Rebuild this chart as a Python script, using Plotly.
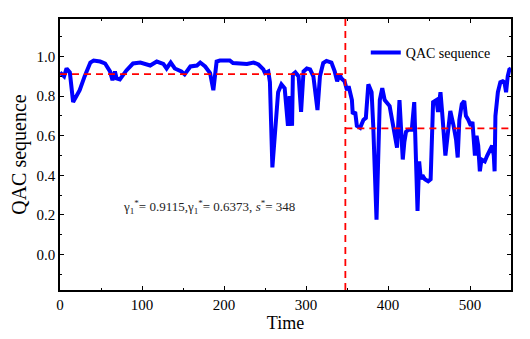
import plotly.graph_objects as go

# QAC sequence (time, value)
time = [0, 5, 8, 12, 16, 24, 30, 37, 41, 49, 55, 61, 64, 67, 69, 73, 81, 89, 98,
        110, 118, 126, 130, 135, 140, 148, 152, 159, 167, 171, 177, 183, 187, 191,
        195, 207, 211, 220, 228, 236, 242, 248, 250, 254, 256, 259, 264, 266, 270,
        274, 278, 280, 283, 284, 287, 291, 294, 297, 301, 305, 309, 314, 317, 321,
        325, 331, 335, 338, 341, 343, 347, 350, 352, 356, 357, 360, 362, 366, 370,
        373, 376, 380, 382, 386, 390, 393, 396, 398, 402, 405, 409, 411, 414, 415,
        418, 420, 422, 425, 429, 432, 434, 436, 438, 440, 442, 445, 449, 452, 455,
        459, 461, 464, 466, 468, 470, 474, 476, 480, 483, 485, 487, 490, 493, 495,
        498, 501, 503, 506, 508, 510, 512, 514, 518, 521, 524, 527, 529, 530, 531,
        534, 537, 540, 542, 544, 546, 548, 550]
qac = [0.92, 0.90, 0.94, 0.92, 0.77, 0.83, 0.90, 0.97, 0.98, 0.975, 0.965, 0.925,
       0.88, 0.925, 0.89, 0.885, 0.93, 0.965, 0.97, 0.955, 0.975, 0.963, 0.94,
       0.97, 0.94, 0.925, 0.91, 0.95, 0.955, 0.97, 0.95, 0.917, 0.83, 0.975, 0.98,
       0.98, 0.967, 0.965, 0.963, 0.97, 0.96, 0.935, 0.917, 0.925, 0.87, 0.44,
       0.70, 0.82, 0.86, 0.84, 0.65, 0.80, 0.65, 0.91, 0.92, 0.90, 0.72, 0.925,
       0.94, 0.935, 0.90, 0.73, 0.90, 0.967, 0.978, 0.97, 0.925, 0.875, 0.91,
       0.89, 0.875, 0.83, 0.85, 0.78, 0.71, 0.72, 0.65, 0.64, 0.68, 0.69, 0.86,
       0.82, 0.65, 0.175, 0.78, 0.84, 0.78, 0.77, 0.75, 0.68, 0.60, 0.54, 0.78,
       0.70, 0.48, 0.57, 0.62, 0.63, 0.63, 0.77, 0.53, 0.22, 0.47, 0.38, 0.40,
       0.38, 0.37, 0.38, 0.77, 0.78, 0.72, 0.82, 0.72, 0.60, 0.50, 0.65, 0.725,
       0.65, 0.58, 0.49, 0.68, 0.76, 0.775, 0.70, 0.68, 0.65, 0.67, 0.50, 0.60,
       0.55, 0.42, 0.48, 0.47, 0.50, 0.53, 0.55, 0.50, 0.42, 0.70, 0.82, 0.87,
       0.875, 0.87, 0.82, 0.90, 0.935, 0.94]

gamma1 = 0.9115
gamma2 = 0.6373
s_star = 348
x_max = 550

font_family = "Liberation Serif, Times New Roman, serif"

fig = go.Figure()
fig.add_trace(go.Scatter(x=time, y=qac, mode="lines", name="QAC sequence",
                         line=dict(color="#0000ff", width=4)))
red = dict(color="#ff0000", width=1.8, dash="7px,5px")
fig.add_trace(go.Scatter(x=[0, s_star], y=[gamma1, gamma1], mode="lines",
                         line=red, showlegend=False))
fig.add_trace(go.Scatter(x=[s_star, x_max], y=[gamma2, gamma2], mode="lines",
                         line=red, showlegend=False))
fig.add_shape(type="line", x0=s_star, x1=s_star, y0=0, y1=1, yref="paper",
              line=red)

fig.add_annotation(x=0.330, y=0.306, xref="paper", yref="paper", showarrow=False,
                   xanchor="center", yanchor="middle",
                   text=f"γ<sub>1</sub><sup>*</sup>= {gamma1},γ<sub>1</sub><sup>*</sup>= {gamma2}, <i>s</i><sup>*</sup>= {s_star}",
                   font=dict(family=font_family, size=13, color="#222"))

axis_common = dict(showline=True, linecolor="black", linewidth=1.5, mirror="allticks",
                   ticks="inside", ticklen=4, tickwidth=1, tickcolor="black",
                   showgrid=False, zeroline=False, automargin=False,
                   tickfont=dict(family=font_family, size=15, color="black"))

fig.update_xaxes(range=[0, x_max], dtick=100, tick0=0,
                 minor=dict(dtick=50, ticks="inside", ticklen=2, tickcolor="black"),
                 title=dict(text="Time", font=dict(family=font_family, size=18, color="black"), standoff=0),
                 **axis_common)
fig.update_yaxes(range=[-0.18, 1.19], dtick=0.2, tick0=0, tickformat=".1f",
                 minor=dict(dtick=0.1, ticks="inside", ticklen=2, tickcolor="black"),
                 title=dict(text="QAC sequence", font=dict(family=font_family, size=20, color="black"), standoff=8),
                 **axis_common)

# page body adds an 8px offset, so margins are shifted to compensate
fig.update_layout(width=530, height=339, margin=dict(l=52, r=27, t=11, b=57),
                  plot_bgcolor="white", paper_bgcolor="white",
                  legend=dict(x=0.678, y=0.875, xanchor="left", yanchor="middle",
                              bgcolor="rgba(0,0,0,0)",
                              font=dict(family=font_family, size=14, color="black")),
                  font=dict(family=font_family))

fig.write_html("out.html")
